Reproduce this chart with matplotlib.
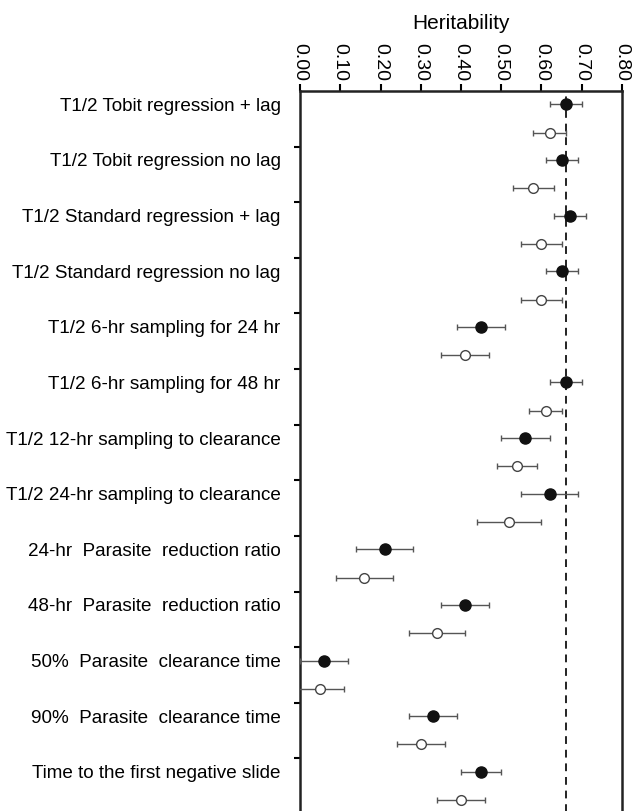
import matplotlib.pyplot as plt

plt.rcParams["font.family"] = ["Liberation Sans", "DejaVu Sans"]

labels = [
    "T1/2 Tobit regression + lag",
    "T1/2 Tobit regression no lag",
    "T1/2 Standard regression + lag",
    "T1/2 Standard regression no lag",
    "T1/2 6-hr sampling for 24 hr",
    "T1/2 6-hr sampling for 48 hr",
    "T1/2 12-hr sampling to clearance",
    "T1/2 24-hr sampling to clearance",
    "24-hr  Parasite  reduction ratio",
    "48-hr  Parasite  reduction ratio",
    "50%  Parasite  clearance time",
    "90%  Parasite  clearance time",
    "Time to the first negative slide",
]

# filled markers: estimate, lower, upper
filled_est = [0.66, 0.65, 0.67, 0.65, 0.45, 0.66, 0.56, 0.62, 0.21, 0.41, 0.06, 0.33, 0.45]
filled_lo = [0.62, 0.61, 0.63, 0.61, 0.39, 0.62, 0.50, 0.55, 0.14, 0.35, 0.00, 0.27, 0.40]
filled_hi = [0.70, 0.69, 0.71, 0.69, 0.51, 0.70, 0.62, 0.69, 0.28, 0.47, 0.12, 0.39, 0.50]

# open markers: estimate, lower, upper
open_est = [0.62, 0.58, 0.60, 0.60, 0.41, 0.61, 0.54, 0.52, 0.16, 0.34, 0.05, 0.30, 0.40]
open_lo = [0.58, 0.53, 0.55, 0.55, 0.35, 0.57, 0.49, 0.44, 0.09, 0.27, -0.01, 0.24, 0.34]
open_hi = [0.66, 0.63, 0.65, 0.65, 0.47, 0.65, 0.59, 0.60, 0.23, 0.41, 0.11, 0.36, 0.46]

reference_value = 0.66
xticks = [0.0, 0.1, 0.2, 0.3, 0.4, 0.5, 0.6, 0.7, 0.8]

fig = plt.figure(figsize=(6.34, 8.11), dpi=100)
ax = fig.add_axes([300 / 634, -3 / 811, 322 / 634, 723 / 811])

n = len(labels)
y_filled = [i + 0.24 for i in range(n)]
y_open = [i + 0.75 for i in range(n)]

err_kw = dict(ecolor="#555555", elinewidth=1.0, capsize=2.5, capthick=1.0, linestyle="none")
ax.errorbar(
    filled_est, y_filled,
    xerr=[[e - l for e, l in zip(filled_est, filled_lo)], [h - e for e, h in zip(filled_est, filled_hi)]],
    marker="o", markersize=8, markerfacecolor="#111111", markeredgecolor="#111111",
    zorder=3, **err_kw,
)
ax.errorbar(
    open_est, y_open,
    xerr=[[e - l for e, l in zip(open_est, open_lo)], [h - e for e, h in zip(open_est, open_hi)]],
    marker="o", markersize=7, markerfacecolor="white", markeredgecolor="#444444",
    markeredgewidth=1.0, zorder=3, **err_kw,
)

ax.axvline(reference_value, color="#222222", linestyle=(0, (4, 3)), linewidth=1.4, zorder=2)

ax.set_xlim(0, 0.8)
ax.set_ylim(n, 0)

ax.xaxis.set_ticks_position("top")
ax.xaxis.set_label_position("top")
ax.set_xticks(xticks)
ax.set_xticklabels([f"{t:.2f}" for t in xticks], rotation=270, fontsize=14)
ax.set_xlabel("Heritability", fontsize=15, labelpad=10)
ax.tick_params(axis="x", direction="out", length=5, width=1.5, pad=2)

# major ticks at category boundaries, labels at filled markers
ax.set_yticks(list(range(1, n)))
ax.set_yticklabels([])
ax.tick_params(axis="y", which="major", direction="out", length=4, width=1.5)
ax.set_yticks(y_filled, minor=True)
ax.set_yticklabels(labels, minor=True, fontsize=13.6)
ax.tick_params(axis="y", which="minor", length=0, pad=14)

for side in ["top", "left", "right"]:
    ax.spines[side].set_linewidth(1.8)
    ax.spines[side].set_color("#222222")
ax.spines["bottom"].set_visible(False)

fig.savefig("out.png", dpi=100)
